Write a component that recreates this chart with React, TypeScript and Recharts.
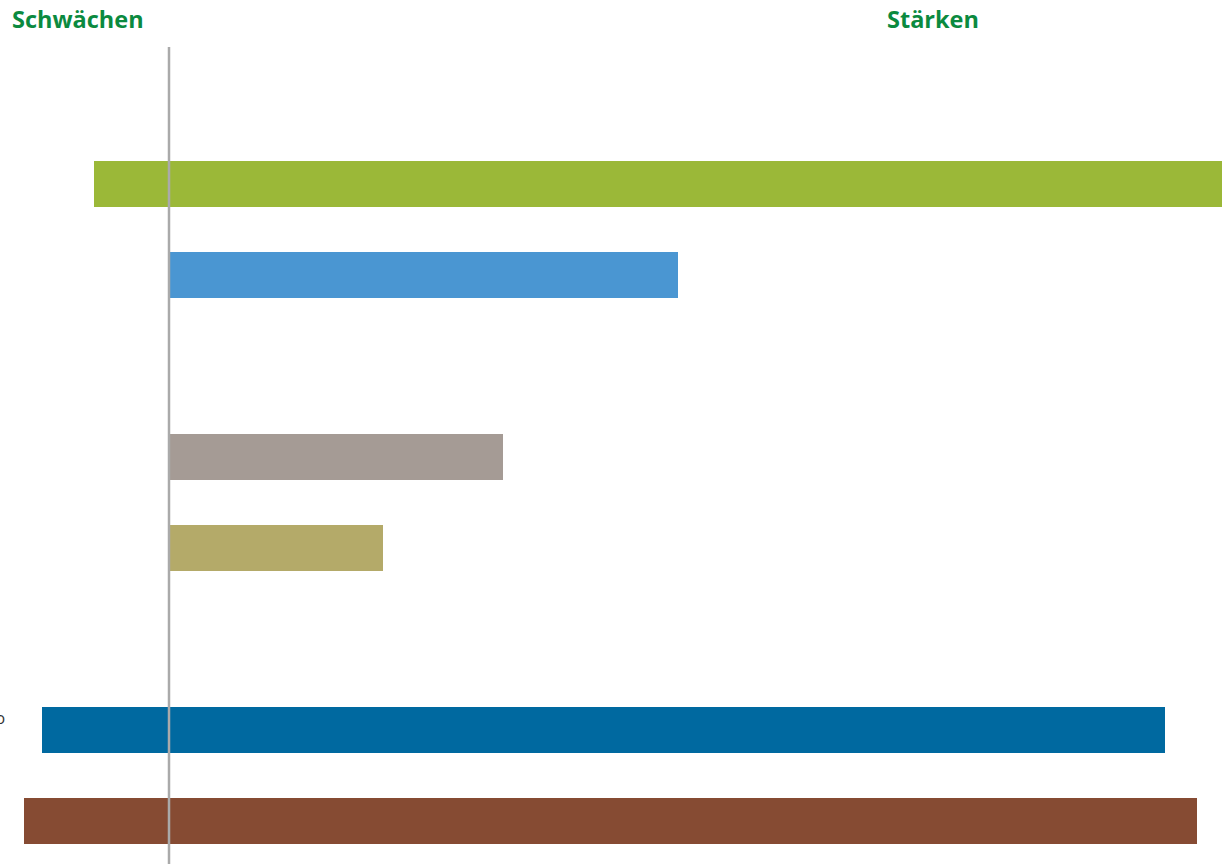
import { Bar, BarChart, Cell, LabelList, ReferenceLine, XAxis, YAxis } from "recharts";

const categories = ["r1", "r2", "r3", "r4", "r5", "r6", "r7", "r8", "r9"];
const lows = [null, -7.5, 0, null, 0, 0, null, -12.7, -14.5];
const highs = [null, 105.3, 50.9, null, 33.4, 21.4, null, 99.6, 102.8];
const colors = ["#cccccc", "#9bb838", "#4a96d2", "#cccccc", "#a59b95", "#b4aa69", "#cccccc", "#0069a0", "#864b33"];
const rowLabels = ["", "", "", "", "", "", "", "o", ""];

const data = categories.map((name, i) => ({
  name,
  range: lows[i] === null ? null : [lows[i], highs[i]],
  label: rowLabels[i],
}));

const titleStyle = {
  position: "absolute" as const,
  top: 3,
  fontFamily: "'Open Sans', sans-serif",
  fontWeight: 700,
  fontSize: 23.5,
  color: "#0b8a3f",
  whiteSpace: "nowrap" as const,
};

const renderRowLabel = (props: any) => {
  const { x, y, height, value } = props;
  if (!value) return null;
  return (
    <text
      x={x - 37}
      y={y + height / 2 - 12}
      textAnchor="end"
      dominantBaseline="central"
      fontFamily="'Open Sans', sans-serif"
      fontSize={16}
      fill="#333333"
    >
      {value}
    </text>
  );
};

export default function App() {
  return (
    <div style={{ position: "absolute", left: 0, top: 0, width: 1223, height: 864, overflow: "hidden", background: "#fff" }}>
      <div style={{ ...titleStyle, left: 12 }}>Schwächen</div>
      <div style={{ ...titleStyle, left: 887 }}>Stärken</div>
      <BarChart
        width={1223}
        height={866}
        data={data}
        layout="vertical"
        margin={{ top: 47, right: 0, bottom: 0, left: 0 }}
        barCategoryGap={0}
      >
        <XAxis type="number" domain={[-16.9, 105.4]} hide allowDataOverflow />
        <YAxis type="category" dataKey="name" hide />
        <Bar dataKey="range" barSize={46} isAnimationActive={false}>
          {data.map((d, i) => (
            <Cell key={d.name} fill={colors[i]} />
          ))}
          <LabelList dataKey="label" content={renderRowLabel} />
        </Bar>
        <ReferenceLine x={0} stroke="#aaaaaa" strokeWidth={2.5} />
      </BarChart>
    </div>
  );
}
